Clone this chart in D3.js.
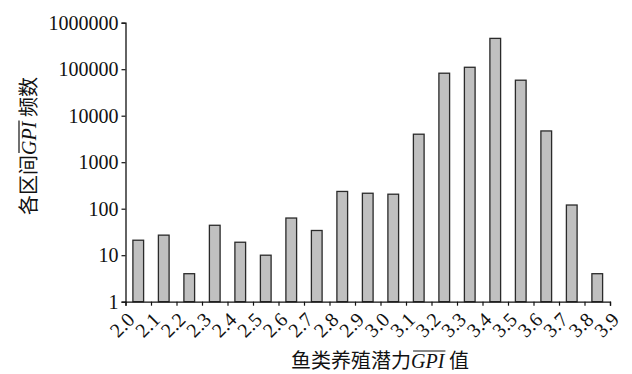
<!DOCTYPE html>
<html><head><meta charset="utf-8">
<script src="https://cdn.jsdelivr.net/npm/d3@7"></script>
<style>
body{margin:0;background:#fff;}
svg{display:block;}
text{font-family:"Liberation Serif","Times New Roman","Noto Sans CJK SC",serif;fill:#111;}
</style></head>
<body>
<script>
const binStarts = ["2.0","2.1","2.2","2.3","2.4","2.5","2.6","2.7","2.8","2.9","3.0","3.1","3.2","3.3","3.4","3.5","3.6","3.7","3.8"];
const counts = [21, 27, 4, 44, 19, 10, 63, 34, 235, 215, 205, 4000, 82000, 110000, 460000, 58000, 4700, 120, 4];
const xTickLabels = ["2.0","2.1","2.2","2.3","2.4","2.5","2.6","2.7","2.8","2.9","3.0","3.1","3.2","3.3","3.4","3.5","3.6","3.7","3.8","3.9"];
const yTickValues = [1, 10, 100, 1000, 10000, 100000, 1000000];
const yTickLabels = ["1","10","100","1000","10000","100000","1000000"];

const W = 632, H = 374;
const SERIF = '"Liberation Serif","Times New Roman",serif';
const CJK = '"Noto Sans CJK SC","Liberation Serif",serif';
const svg = d3.select("body").append("svg").attr("width", W).attr("height", H);

const x = d3.scaleLinear().domain([2.0, 3.9]).range([125.5, 610]);
const y = d3.scaleLog().domain([1, 1e6]).range([301.7, 22.7]);
const binW = 0.1;
const barW = (x(2.0 + binW) - x(2.0)) * 0.42;

// bars
svg.append("g").selectAll("rect").data(counts).join("rect")
  .attr("x", (d, i) => x(+binStarts[i] + binW / 2) - barW / 2)
  .attr("y", d => y(d))
  .attr("width", barW)
  .attr("height", d => y(1) - y(d))
  .attr("fill", "#c0c0c0")
  .attr("stroke", "#2a2a2a")
  .attr("stroke-width", 1.3);

// y axis
const yAxis = d3.axisLeft(y).tickValues(yTickValues)
  .tickFormat((d, i) => yTickLabels[i]).tickSizeOuter(0).tickSize(4).tickPadding(3);
const gy = svg.append("g").attr("transform", `translate(${x(2.0)},0)`).call(yAxis)
  .attr("font-family", SERIF).attr("font-size", 20);
gy.select(".domain").attr("stroke", "#111").attr("stroke-width", 1.3);
gy.selectAll(".tick line").attr("stroke", "#111").attr("stroke-width", 1.2);
gy.selectAll(".tick text").style("font-size", "20px").style("font-family", SERIF).attr("fill", "#111");

// x axis
const xTickVals = xTickLabels.map(s => +s);
const xAxis = d3.axisBottom(x).tickValues(xTickVals)
  .tickFormat((d, i) => xTickLabels[i]).tickSizeOuter(0).tickSize(4);
const gx = svg.append("g").attr("transform", `translate(0,${y(1)})`).call(xAxis)
  .attr("font-family", SERIF).attr("font-size", 20);
gx.select(".domain").attr("stroke", "#111").attr("stroke-width", 1.3);
gx.selectAll(".tick line").attr("stroke", "#111").attr("stroke-width", 1.2);
gx.selectAll(".tick text")
  .style("font-size", "20px").style("font-family", SERIF).attr("fill", "#111")
  .attr("y", 0).attr("dy", "0.35em")
  .attr("text-anchor", "middle")
  .attr("transform", "translate(-4,23) rotate(-45)");

// helper: text with overlined italic GPI
function titleText(g, parts) {
  const t = g.append("text").style("font-size", "20px");
  parts.forEach(p => {
    const ts = t.append("tspan").text(p.t);
    if (p.it) ts.style("font-style", "italic").style("font-family", SERIF);
    else ts.style("font-family", CJK);
  });
  return t;
}
function overline(g, t, startIdx, len) {
  const node = t.node();
  const a = node.getExtentOfChar(startIdx);
  const b = node.getExtentOfChar(startIdx + len - 1);
  g.append("line")
    .attr("x1", a.x + 2).attr("x2", b.x + b.width + 1)
    .attr("y1", a.y + 1).attr("y2", a.y + 1)
    .attr("stroke", "#111").attr("stroke-width", 1.2);
}

// x title
const gxt = svg.append("g");
const xt = titleText(gxt, [{t:"鱼类养殖潜力"},{t:"GPI",it:true},{t:" 值"}]);
xt.attr("text-anchor", "middle").attr("x", 380).attr("y", 368);
overline(gxt, xt, 6, 3);

// y title
const gyt = svg.append("g").attr("transform", "translate(36,146) rotate(-90)");
const yt = titleText(gyt, [{t:"各区间"},{t:"GPI",it:true},{t:" 频数"}]);
yt.attr("text-anchor", "middle").attr("x", 0).attr("y", 0);
overline(gyt, yt, 3, 3);
</script>
</body></html>
